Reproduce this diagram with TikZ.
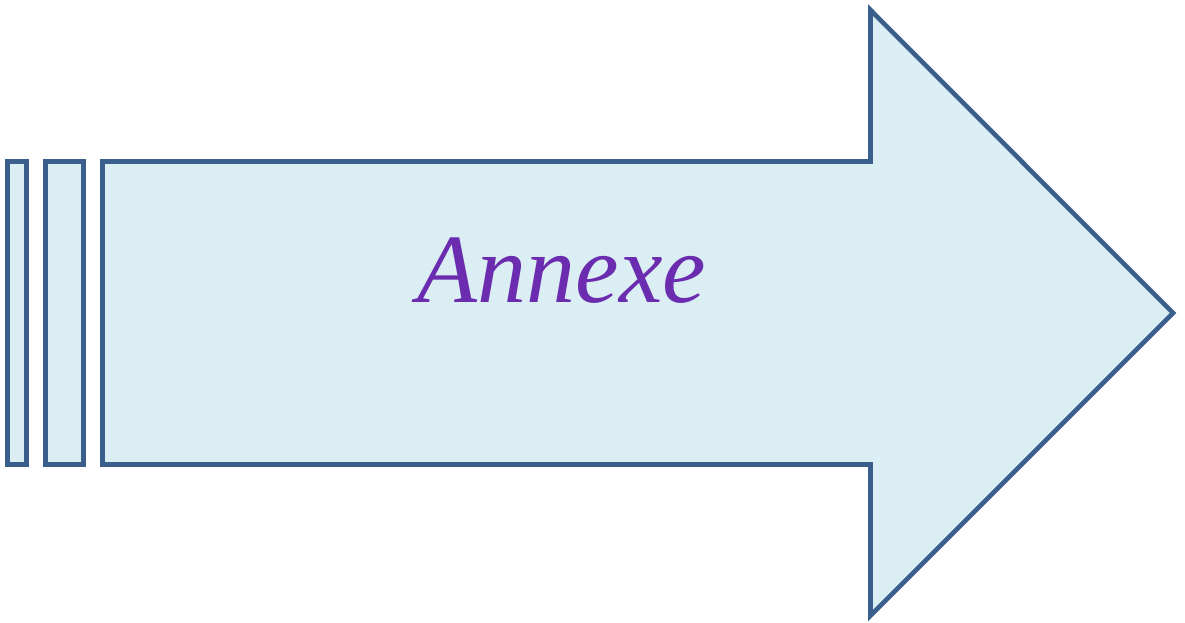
\documentclass[tikz,border=0pt]{standalone}
\usepackage{fontspec}
\setmainfont{Liberation Serif}
\definecolor{fillblue}{HTML}{DBEEF4}
\definecolor{edgeblue}{HTML}{3A5F8D}
\definecolor{textpurple}{HTML}{6B2CB0}
\begin{document}
\begin{tikzpicture}[x=0.5pt,y=-0.5pt,
  shapestyle/.style={draw=edgeblue,fill=fillblue,line width=2.3pt,line join=miter},
  labelstyle/.style={text=textpurple,font=\fontsize{49}{55}\selectfont\itshape,anchor=base,inner sep=0pt}]
\useasboundingbox (0,0) rectangle (1185,622);
\path[shapestyle] (7.5,161.5) rectangle (26.5,464.5);
\path[shapestyle] (45.5,161.5) rectangle (83.5,464.5);
\path[shapestyle] (102.5,161.5) -- (870.5,161.5) -- (870.5,10) -- (1173,313) -- (870.5,615.5) -- (870.5,464.5) -- (102.5,464.5) -- cycle;
\node[labelstyle] (lbl) at (562,302) {Annexe};
\end{tikzpicture}
\end{document}
